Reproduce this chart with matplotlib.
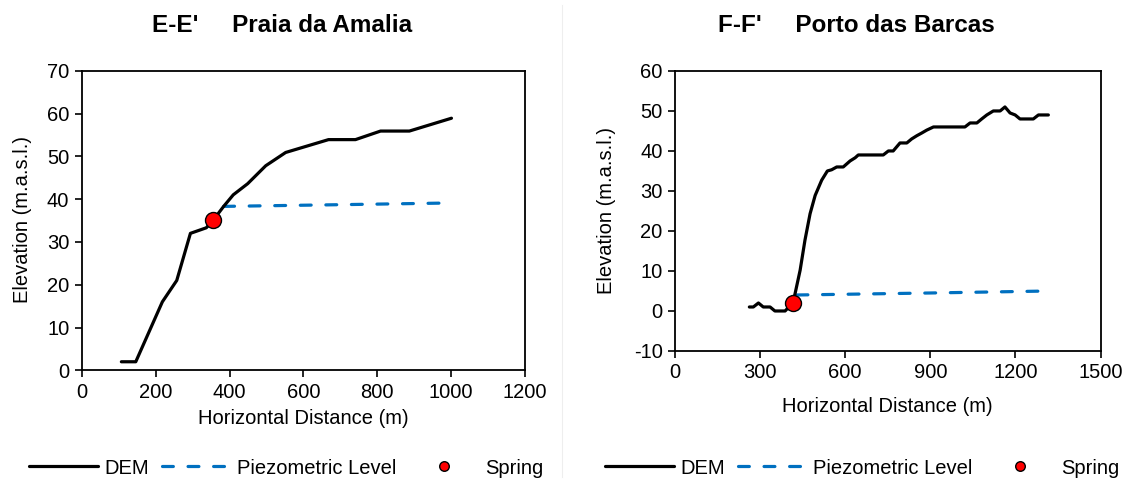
import matplotlib
matplotlib.use("Agg")
import matplotlib.pyplot as plt
from matplotlib.lines import Line2D

plt.rcParams['font.family'] = ['Liberation Sans', 'DejaVu Sans']
plt.rcParams['axes.unicode_minus'] = False

# E-E' Praia da Amalia
dem_e_x = [107, 146, 218, 257, 294, 337, 355, 384, 410, 449, 498, 552, 668, 741, 809, 887, 1001]
dem_e_y = [2, 2, 16, 21, 32, 33.3, 35, 38.3, 41, 43.6, 47.8, 50.9, 53.9, 53.9, 55.9, 55.9, 58.9]
piezo_e_x = [384, 700, 1001]
piezo_e_y = [38.3, 38.7, 39.1]
spring_e = (355, 35.2)

# F-F' Porto das Barcas
dem_f_x = [262, 276, 294, 311, 335, 352, 388, 415, 423, 441, 458, 476, 494, 517, 537, 552,
           570, 593, 617, 635, 646, 734, 752, 769, 793, 817, 834, 852, 870, 887, 911, 1022,
           1040, 1064, 1081, 1099, 1122, 1146, 1163, 1181, 1199, 1216, 1263, 1281, 1316]
dem_f_y = [1, 1, 2, 1, 1, 0, 0, 2, 4.3, 10.2, 17.7, 24.3, 28.9, 32.7, 35, 35.3,
           36, 36, 37.5, 38.3, 39, 39, 40, 40, 42, 42, 43, 43.8, 44.5, 45.2, 46, 46,
           47, 47, 48, 49, 50, 50, 51, 49.5, 49, 48, 48, 49, 49]
piezo_f_x = [430, 900, 1320]
piezo_f_y = [4.0, 4.5, 5.0]
spring_f = (415, 2.0)

FS = 14.5

fig = plt.figure(figsize=(11.26, 4.82), dpi=100)

ax1 = fig.add_axes([0.0727, 0.2317, 0.3935, 0.6216])
ax2 = fig.add_axes([0.5995, 0.2718, 0.3779, 0.581])

panels = [
    (ax1, dem_e_x, dem_e_y, piezo_e_x, piezo_e_y, spring_e, (0, 1200), range(0, 1201, 200), (0, 70), range(0, 71, 10)),
    (ax2, dem_f_x, dem_f_y, piezo_f_x, piezo_f_y, spring_f, (0, 1500), range(0, 1501, 300), (-10, 60), range(-10, 61, 10)),
]

for ax, dx, dy, px, py, sp, xl, xt, yl, yt in panels:
    ax.plot(dx, dy, color='black', lw=2.3, solid_joinstyle='round', solid_capstyle='round',
            label='DEM', zorder=3)
    ax.plot(px, py, color='#0070C0', lw=2.3, dashes=(3.4, 4.6), dash_capstyle='round',
            label='Piezometric Level', zorder=2)
    ax.plot([sp[0]], [sp[1]], 'o', ms=11.5, mfc='#FF0000', mec='black', mew=1.0,
            ls='none', label='Spring', zorder=4)
    ax.set_xlim(*xl)
    ax.set_ylim(*yl)
    ax.set_xticks(list(xt))
    ax.set_yticks(list(yt))
    ax.tick_params(direction='out', length=5, width=1.2, labelsize=FS, pad=4)
    for s in ax.spines.values():
        s.set_linewidth(1.3)

# axis labels
fig.text(303 / 1126, 1 - 419 / 482, 'Horizontal Distance (m)', ha='center', va='center', fontsize=FS)
fig.text(887 / 1126, 1 - 406 / 482, 'Horizontal Distance (m)', ha='center', va='center', fontsize=FS)
fig.text(22 / 1126, 1 - 220 / 482, 'Elevation (m.a.s.l.)', rotation=90, ha='center', va='center', fontsize=FS)
fig.text(607 / 1126, 1 - 211 / 482, 'Elevation (m.a.s.l.)', rotation=90, ha='center', va='center', fontsize=FS)

# titles
fig.text(282 / 1126, 1 - 26 / 482, "E-E'     Praia da Amalia", ha='center', va='center',
         fontsize=17.5, fontweight='bold')
fig.text(856 / 1126, 1 - 26 / 482, "F-F'     Porto das Barcas", ha='center', va='center',
         fontsize=17.5, fontweight='bold')

# legends
for ax, cx in [(ax1, 286), (ax2, 862)]:
    h, l = ax.get_legend_handles_labels()
    fig.legend(h, l, loc='center', bbox_to_anchor=(cx / 1126, 1 - 468 / 482), ncol=3,
               frameon=False, fontsize=FS, handlelength=3.43, handletextpad=0.3,
               columnspacing=0.65, borderaxespad=0, markerscale=0.6)

# faint separator between the two panels
fig.add_artist(Line2D([562 / 1126, 562 / 1126], [0.01, 0.99], color='#eeeeee', lw=0.8))

fig.savefig('out.png', dpi=100)
